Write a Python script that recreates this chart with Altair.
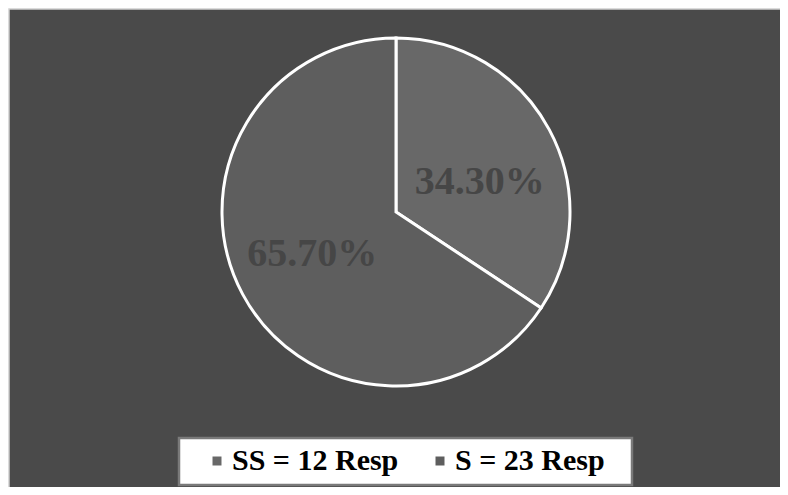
import altair as alt
import pandas as pd

# Data
categories = ["SS = 12 Resp", "S = 23 Resp"]
percent = [34.30, 65.70]
labels = ["34.30%", "65.70%"]
slice_colors = ["#686868", "#5e5e5e"]

df = pd.DataFrame({
    "cat": categories,
    "pct": percent,
    "label": labels,
    "idx": list(range(len(categories))),
})

W, H = 772, 479
CX, CY, R = 388, 204, 174
SERIF = "Liberation Serif"

bg = alt.Chart(alt.Data(values=[{}])).mark_rect(
    fill="#4a4a4a", stroke="#cfcfcf", strokeWidth=1.5
).encode(x=alt.value(1), x2=alt.value(W + 2), y=alt.value(1), y2=alt.value(H + 2))

legend_box = alt.Chart(alt.Data(values=[{}])).mark_rect(
    fill="white", stroke="#7a7a7a", strokeWidth=2.5
).encode(x=alt.value(171), x2=alt.value(624), y=alt.value(430), y2=alt.value(477))

color = alt.Color(
    "cat:N",
    scale=alt.Scale(domain=categories, range=slice_colors),
    legend=alt.Legend(
        orient="none", legendX=194, legendY=438, direction="horizontal",
        title=None, symbolType="square", symbolSize=81, symbolStrokeWidth=0,
        labelFont=SERIF, labelFontSize=30, labelFontWeight="bold", labelColor="black",
        labelOffset=0, columnPadding=26, padding=0, labelLimit=400,
    ),
)

pie = alt.Chart(df).mark_arc(outerRadius=R, stroke="white", strokeWidth=3).encode(
    theta=alt.Theta("pct:Q", stack=True),
    color=color,
    order=alt.Order("idx:Q"),
    x=alt.value(CX), y=alt.value(CY),
)


def label_layer(i, dy):
    return alt.Chart(df).mark_text(
        radius=95, dy=dy, font=SERIF, fontSize=40, fontWeight="bold", color="#464646"
    ).encode(
        theta=alt.Theta("pct:Q", stack=True),
        order=alt.Order("idx:Q"),
        text="label:N",
        opacity=alt.condition(alt.datum.idx == i, alt.value(1), alt.value(0)),
        x=alt.value(CX), y=alt.value(CY),
    )


chart = alt.layer(bg, legend_box, pie, label_layer(0, 15), label_layer(1, -3)).properties(
    width=W, height=H, padding=0, autosize=alt.AutoSizeParams(type="none"),
    background="white",
).configure_view(stroke=None)

chart.save("out.html", embed_options={"renderer": "svg", "actions": False})
